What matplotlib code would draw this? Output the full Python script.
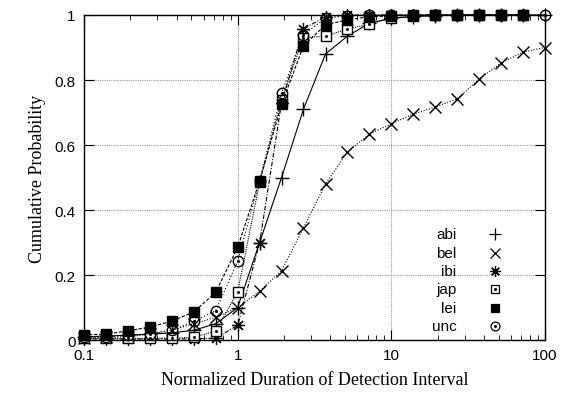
import numpy as np
import matplotlib.pyplot as plt

# normalized durations (log spaced sample points)
x = [0.1, 0.139, 0.193, 0.268, 0.373, 0.518, 0.72, 1.0, 1.39, 1.93, 2.68,
     3.73, 5.18, 7.2, 10.0, 13.9, 19.3, 26.8, 37.3, 51.8, 72.0, 100.0]

abi = [0.010, 0.012, 0.015, 0.018, 0.022, 0.030, 0.050, 0.100, 0.300, 0.500, 0.710,
       0.880, 0.935, 0.975, 0.990, 0.995, 0.998, 1.0, 1.0, 1.0, 1.0, 1.0]
bel = [0.005, 0.008, 0.010, 0.018, 0.030, 0.050, 0.070, 0.100, 0.150, 0.213, 0.345,
       0.480, 0.578, 0.634, 0.665, 0.695, 0.717, 0.742, 0.803, 0.852, 0.886, 0.900]
# ibi, jap and lei stop one sample short
ibi = [0.003, 0.003, 0.003, 0.003, 0.003, 0.004, 0.006, 0.045, 0.300, 0.730, 0.957,
       0.995, 1.0, 1.0, 1.0, 1.0, 1.0, 1.0, 1.0, 1.0, 1.0]
jap = [0.005, 0.005, 0.005, 0.005, 0.006, 0.008, 0.028, 0.148, 0.485, 0.740, 0.930,
       0.935, 0.957, 0.972, 0.990, 0.997, 1.0, 1.0, 1.0, 1.0, 1.0]
lei = [0.016, 0.018, 0.028, 0.040, 0.058, 0.086, 0.147, 0.285, 0.490, 0.725, 0.905,
       0.970, 0.985, 0.995, 0.997, 1.0, 1.0, 1.0, 1.0, 1.0, 1.0]
unc = [0.008, 0.010, 0.014, 0.020, 0.030, 0.058, 0.090, 0.243, 0.490, 0.760, 0.940,
       0.990, 0.998, 1.0, 1.0, 1.0, 1.0, 1.0, 1.0, 1.0, 1.0, 1.0]

names = ["abi", "bel", "ibi", "jap", "lei", "unc"]
series = [abi, bel, ibi, jap, lei, unc]
styles = [
    dict(ls="-", marker="+", ms=10, mfc="none", mew=1.0),
    dict(ls=(0, (1, 1.5)), marker="x", ms=8, mfc="none", mew=1.0),
    dict(ls=(0, (4, 1.5, 1, 1.5)), marker=(8, 2, 0), ms=9, mfc="none", mew=0.9),
    dict(ls=(0, (1, 1)), marker="s", ms=7, mfc="white", mew=1.0),
    dict(ls=(0, (3, 1.5)), marker="s", ms=7.5, mfc="black", mew=1.0),
    dict(ls=(0, (1, 2)), marker="o", ms=7.5, mfc="none", mew=1.0),
]
dotted_centre = ["jap", "unc"]

fig = plt.figure(figsize=(5.61, 4.02), dpi=100)
ax = fig.add_axes([0.1497, 0.1517, 0.8218, 0.8085])

for name, y, st in zip(names, series, styles):
    xs = x[:len(y)]
    ax.plot(xs, y, color="black", lw=0.8, clip_on=False, **st)
    if name in dotted_centre:
        ax.plot(xs, y, ls="none", marker="o", ms=1.2, color="black", clip_on=False)

ax.set_xscale("log")
ax.set_xlim(0.1, 100)
ax.set_ylim(0, 1)
ax.set_xticks([0.1, 1, 10, 100])
ax.set_xticklabels(["0.1", "1", "10", "100"])
ax.set_yticks([0, 0.2, 0.4, 0.6, 0.8, 1.0])
ax.set_yticklabels(["0", "0.2", "0.4", "0.6", "0.8", "1"])

sans = ["Liberation Sans", "DejaVu Sans"]
serif = ["Liberation Serif", "DejaVu Serif"]
for lab in ax.get_xticklabels() + ax.get_yticklabels():
    lab.set_family(sans)
    lab.set_fontsize(11)

ax.tick_params(which="major", direction="in", length=7, top=True, right=True, width=0.8, pad=6)
ax.tick_params(which="minor", direction="in", length=3.5, top=True, right=True, width=0.6)
ax.grid(True, which="major", color="#999999", ls=(0, (1, 1)), lw=0.8)
for sp in ax.spines.values():
    sp.set_linewidth(1.0)

ax.set_xlabel("Normalized Duration of Detection Interval", family=serif, fontsize=13, labelpad=6)
ax.set_ylabel("Cumulative Probability", family=serif, fontsize=13, labelpad=6)

# key: right-aligned names with symbol to the right
ky0 = 0.325
dy = 0.0565
for i, (name, st) in enumerate(zip(names, styles)):
    yy = ky0 - i * dy
    ax.text(0.808, yy, name, transform=ax.transAxes, ha="right", va="center",
            family=sans, fontsize=11)
    ms = st["ms"] * 0.85
    ax.plot([0.892], [yy], transform=ax.transAxes, ls="none", color="black",
            marker=st["marker"], ms=ms, mfc=st["mfc"], mew=0.9, clip_on=False)
    if name in dotted_centre:
        ax.plot([0.892], [yy], transform=ax.transAxes, ls="none", color="black",
                marker="o", ms=1.2)

fig.savefig("out.png", dpi=100)
